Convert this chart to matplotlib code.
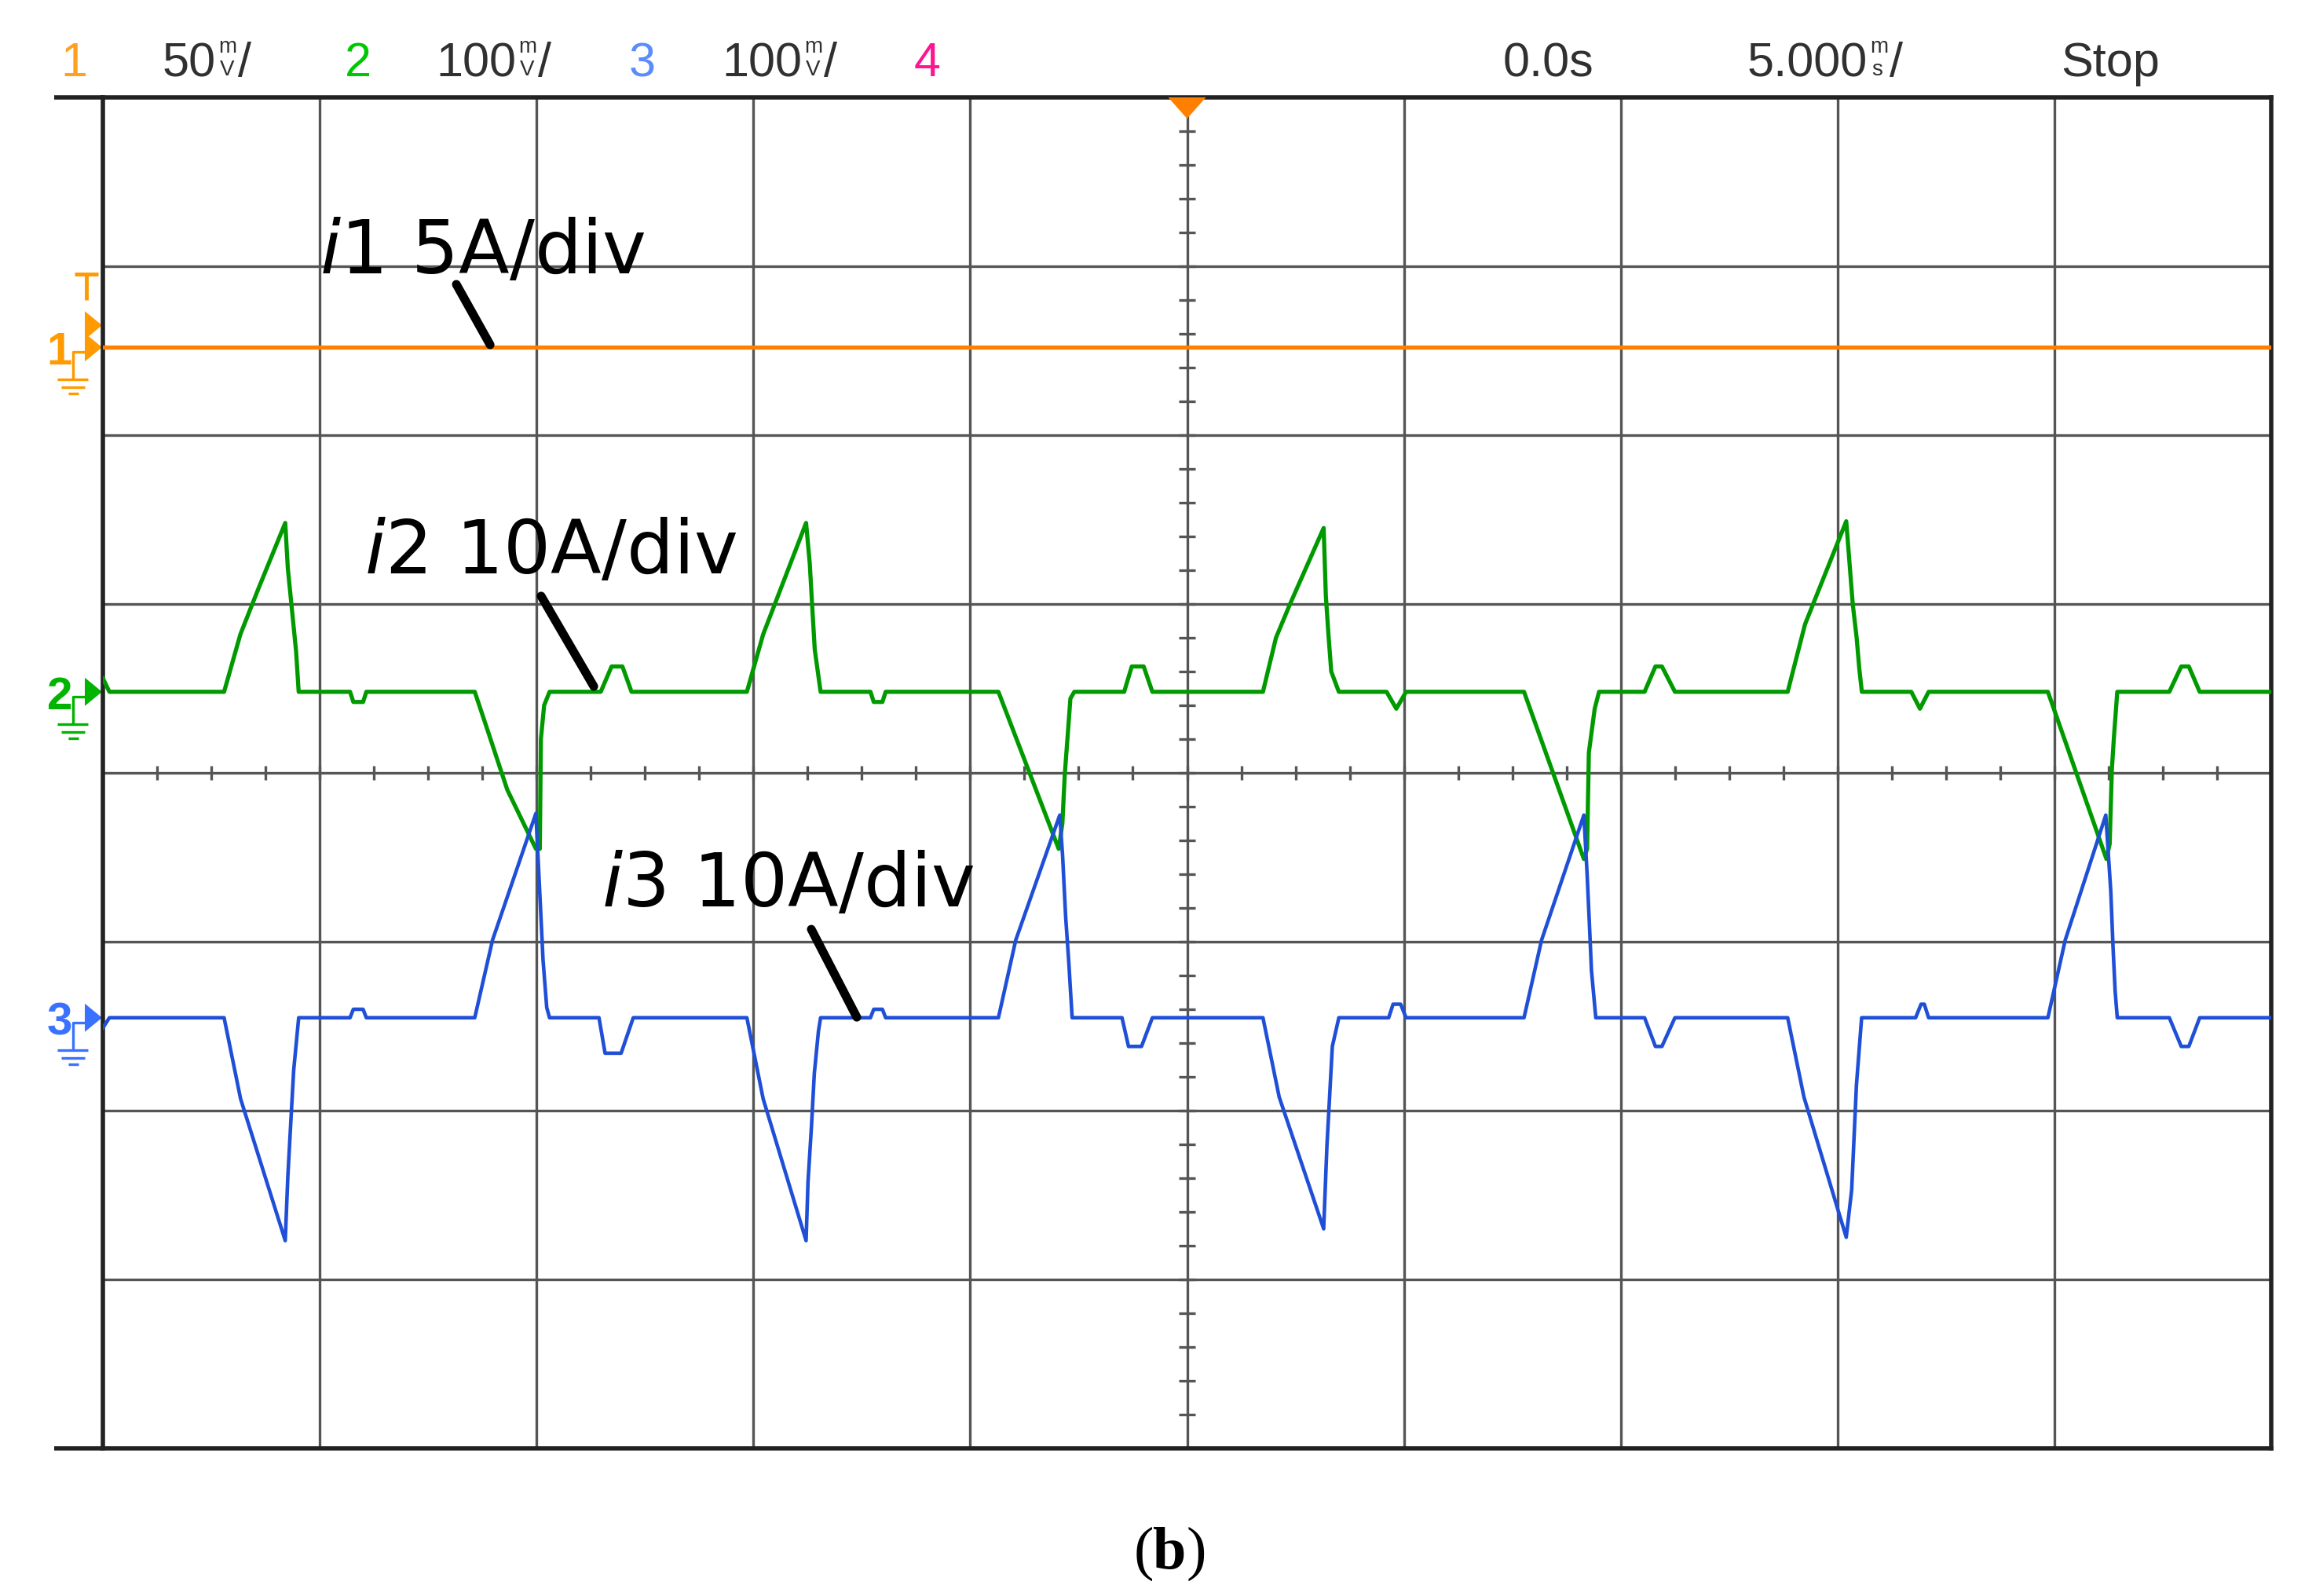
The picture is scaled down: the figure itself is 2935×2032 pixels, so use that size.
import numpy as np
import matplotlib.pyplot as plt

# scope channel data, x in divisions (5 ms/div), y in divisions
orange_t = [0.0, 10.0]
orange_i = [2.52, 2.52]

green_t = [0.00, 0.03,
           0.559, 0.634, 0.717, 0.841, 0.853, 0.874, 0.891, 0.903,
           1.14, 1.155, 1.20, 1.215,
           1.715, 1.78, 1.865, 1.997, 2.015, 2.02, 2.035, 2.06,
           2.296, 2.346, 2.396, 2.438,
           2.97, 3.045, 3.243, 3.26, 3.272, 3.283, 3.31,
           3.54, 3.555, 3.595, 3.61,
           4.13, 4.408, 4.425, 4.436, 4.45, 4.462, 4.48,
           4.71, 4.745, 4.80, 4.84,
           5.35, 5.41, 5.475, 5.63, 5.64, 5.652, 5.665, 5.70,
           5.92, 5.965, 6.01,
           6.554, 6.83, 6.845, 6.853, 6.88, 6.90,
           7.11, 7.16, 7.19, 7.25,
           7.77, 7.85, 8.04, 8.07, 8.088, 8.10, 8.112,
           8.34, 8.38, 8.42,
           8.97, 9.24, 9.255, 9.265, 9.275, 9.29,
           9.53, 9.585, 9.62, 9.67,
           10.0]
green_i = [0.56, 0.48,
           0.48, 0.82, 1.09, 1.48, 1.21, 0.94, 0.72, 0.48,
           0.48, 0.42, 0.42, 0.48,
           0.48, 0.23, -0.10, -0.45, -0.45, 0.20, 0.40, 0.48,
           0.48, 0.63, 0.63, 0.48,
           0.48, 0.82, 1.48, 1.24, 0.97, 0.73, 0.48,
           0.48, 0.42, 0.42, 0.48,
           0.48, -0.45, -0.30, -0.01, 0.23, 0.44, 0.48,
           0.48, 0.63, 0.63, 0.48,
           0.48, 0.80, 1.00, 1.45, 1.05, 0.82, 0.60, 0.48,
           0.48, 0.38, 0.48,
           0.48, -0.51, -0.45, 0.12, 0.38, 0.48,
           0.48, 0.63, 0.63, 0.48,
           0.48, 0.88, 1.49, 1.00, 0.80, 0.62, 0.48,
           0.48, 0.38, 0.48,
           0.48, -0.51, -0.42, 0.02, 0.22, 0.48,
           0.48, 0.63, 0.63, 0.48,
           0.48]

blue_t = [0.00, 0.03,
          0.559, 0.635, 0.841, 0.853, 0.867, 0.88, 0.903,
          1.14, 1.155, 1.20, 1.215,
          1.715, 1.797, 1.997, 2.019, 2.03, 2.047, 2.06,
          2.288, 2.316, 2.39, 2.446,
          2.97, 3.045, 3.243, 3.252, 3.268, 3.281, 3.30, 3.31,
          3.54, 3.555, 3.595, 3.61,
          4.13, 4.21, 4.413, 4.426, 4.44, 4.455, 4.47,
          4.70, 4.73, 4.79, 4.84,
          5.35, 5.425, 5.63, 5.645, 5.67, 5.70,
          5.93, 5.95, 5.985, 6.01,
          6.554, 6.635, 6.83, 6.845, 6.855, 6.865, 6.885,
          7.11, 7.16, 7.19, 7.25,
          7.77, 7.845, 8.04, 8.065, 8.087, 8.111,
          8.36, 8.385, 8.40, 8.42,
          8.97, 9.05, 9.237, 9.26, 9.27, 9.28, 9.29,
          9.53, 9.585, 9.62, 9.67,
          10.0]
blue_i = [-1.51, -1.45,
          -1.45, -1.93, -2.77, -2.39, -2.06, -1.76, -1.45,
          -1.45, -1.40, -1.40, -1.45,
          -1.45, -0.99, -0.24, -0.82, -1.11, -1.39, -1.45,
          -1.45, -1.66, -1.66, -1.45,
          -1.45, -1.93, -2.77, -2.42, -2.09, -1.78, -1.53, -1.45,
          -1.45, -1.40, -1.40, -1.45,
          -1.45, -0.99, -0.25, -0.49, -0.85, -1.13, -1.45,
          -1.45, -1.62, -1.62, -1.45,
          -1.45, -1.92, -2.70, -2.21, -1.62, -1.45,
          -1.45, -1.37, -1.37, -1.45,
          -1.45, -0.99, -0.25, -0.60, -0.88, -1.17, -1.45,
          -1.45, -1.62, -1.62, -1.45,
          -1.45, -1.92, -2.75, -2.47, -1.85, -1.45,
          -1.45, -1.37, -1.37, -1.45,
          -1.45, -0.99, -0.25, -0.70, -1.02, -1.29, -1.45,
          -1.45, -1.62, -1.62, -1.45,
          -1.45]

ORANGE = '#ff8000'
GREEN = '#009a00'
BLUE = '#1f4fd6'
GRID = '#555555'
HDR_FONT = 'Liberation Sans'

plt.rcParams['font.family'] = ['DejaVu Sans']

W, H = 2935, 2032
fig = plt.figure(figsize=(W / 100, H / 100), dpi=100)
ax = fig.add_axes([131 / W, 1 - 1844 / H, 2761 / W, 1720 / H])
ax.set_xlim(0, 10)
ax.set_ylim(-4, 4)
ax.set_xticks([])
ax.set_yticks([])
for s in ax.spines.values():
    s.set_linewidth(4)
    s.set_color('#222222')

XU = 10 / 2761   # div per pixel
YU = 8 / 1720

# graticule
for x in range(1, 10):
    ax.axvline(x, color=GRID, lw=2.4, zorder=1)
for y in range(-3, 4):
    ax.axhline(y, color=GRID, lw=2.4, zorder=1)
ax.vlines(np.arange(0.25, 10, 0.25), -0.04, 0.04, color=GRID, lw=2.4, zorder=1)
ax.hlines(np.arange(-3.8, 4, 0.2), 5 - 0.037, 5 + 0.037, color=GRID, lw=2.4, zorder=1)
for y in (4, -4):
    ax.plot([-0.225, 0], [y, y], color='#222222', lw=4, clip_on=False, solid_capstyle='butt')

# traces
ax.plot(orange_t, orange_i, color=ORANGE, lw=3.8, zorder=3)
ax.plot(green_t, green_i, color=GREEN, lw=3.8, zorder=4)
ax.plot(blue_t, blue_i, color=BLUE, lw=3.3, zorder=4)

# trigger position marker on top
ax.fill([5 - 24 * XU, 5 + 24 * XU, 5], [4, 4, 4 - 27 * YU], color=ORANGE, lw=0,
        clip_on=False, zorder=5)

MK = 2.4


def channel_marker(level, color, label):
    tip, base, hh = -1 * XU, -23 * XU, 18 * YU
    ax.fill([tip, base, base], [level, level + hh, level - hh], color=color, lw=0, clip_on=False)
    ax.plot([base, -38 * XU, -38 * XU], [level - 6 * YU, level - 6 * YU, level - 41 * YU],
            color=color, lw=MK, clip_on=False, solid_capstyle='butt')
    for dy, x0, x1 in [(41, -58, -19), (51, -53, -23), (59, -44, -31)]:
        ax.plot([x0 * XU, x1 * XU], [level - dy * YU] * 2, color=color, lw=MK, clip_on=False,
                solid_capstyle='butt')
    ax.text(-55 * XU, level - 22 * YU, label, color=color, fontsize=42, ha='center',
            va='baseline', family=HDR_FONT, fontweight='bold')


channel_marker(orange_i[0], '#ff9a00', '1')
channel_marker(green_i[-1], '#00b400', '2')
channel_marker(blue_i[-1], '#3a72ff', '3')

# trigger level marker
lv = orange_i[0]
ax.fill([-1 * XU, -23 * XU, -23 * XU], [lv + 28 * YU, lv + 46 * YU, lv + 10 * YU],
        color='#ff9a00', lw=0, clip_on=False)
ax.plot([-36 * XU, -6 * XU], [lv + 93 * YU] * 2, color='#ff9a00', lw=3.5, clip_on=False,
        solid_capstyle='butt')
ax.plot([-21 * XU, -21 * XU], [lv + 93 * YU, lv + 60 * YU], color='#ff9a00', lw=3.5,
        clip_on=False, solid_capstyle='butt')

# annotations
lab_kw = dict(fontsize=68, color='black', zorder=7)
ax.text(1.0, 2.96, r'$\mathit{i}$1 5A/div', **lab_kw)
ax.text(1.206, 1.18, r'$\mathit{i}$2 10A/div', **lab_kw)
ax.text(2.30, -0.79, r'$\mathit{i}$3 10A/div', **lab_kw)
ptr_kw = dict(color='black', lw=8, solid_capstyle='round', zorder=7, clip_on=False)
ax.plot([1.63, 1.786], [2.893, 2.535], **ptr_kw)
ax.plot([2.021, 2.264], [1.047, 0.512], **ptr_kw)
ax.plot([3.267, 3.477], [-0.926, -1.447], **ptr_kw)

# header line of the scope screen
TXT = '#303030'
renderer = fig.canvas.get_renderer()


def hdr(x_px, s, color=TXT, ha='left', size=44):
    t = fig.text(x_px / W, 1 - 97 / H, s, color=color, fontsize=size, family=HDR_FONT,
                 ha=ha, va='baseline')
    return t.get_window_extent(renderer).x1


def per_div(x_px, value, top, bot):
    x = hdr(x_px, value)
    fig.text((x + 3) / W, 1 - 67 / H, top, color=TXT, fontsize=20, family=HDR_FONT,
             va='baseline')
    fig.text((x + 5) / W, 1 - 96 / H, bot, color=TXT, fontsize=20, family=HDR_FONT,
             va='baseline')
    hdr(x + 28, '/')


hdr(94, '1', color='#ffa020', ha='center')
per_div(207, '50', 'm', 'V')
hdr(456, '2', color='#00c800', ha='center')
per_div(555, '100', 'm', 'V')
hdr(818, '3', color='#5a8cff', ha='center')
per_div(919, '100', 'm', 'V')
hdr(1181, '4', color='#ff1493', ha='center')
hdr(1914, '0.0s')
per_div(2225, '5.000', 'm', 's')
hdr(2624, 'Stop')

# panel label
by = 1 - 1997 / H
fig.text(1444 / W, by, '(', family='Liberation Serif', fontsize=55, va='baseline')
fig.text(1467 / W, by, 'b', family='Liberation Serif', fontweight='bold', fontsize=55, va='baseline')
fig.text(1511 / W, by, ')', family='Liberation Serif', fontsize=55, va='baseline')

fig.savefig('out.png', dpi=100, facecolor='white')
